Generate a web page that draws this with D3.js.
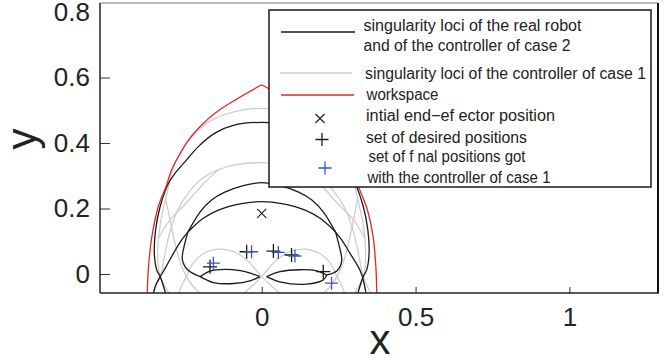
<!DOCTYPE html>
<html>
<head>
<meta charset="utf-8">
<script src="https://cdn.jsdelivr.net/npm/d3@7"></script>
<style>
  body { margin: 0; background: #fff; }
  svg { display: block; }
  .tick-label { font-family: "Liberation Sans", Arial, sans-serif; font-size: 26px; fill: #222; }
  .axis-title { font-family: "Liberation Sans", Arial, sans-serif; font-size: 42px; fill: #222; }
  .legend-text { font-family: "Liberation Sans", Arial, sans-serif; font-size: 16px; fill: #222; }
  .black-loci { fill: none; stroke: #1a1a1a; stroke-width: 1.3; }
  .gray-loci { fill: none; stroke: #cdcdcd; stroke-width: 1.3; }
  .workspace { fill: none; stroke: #e3262a; stroke-width: 1.3; }
</style>
</head>
<body>
<div id="chart"></div>
<script>
// axis ticks
const xTicks = [0, 0.5, 1];
const yTicks = [0, 0.2, 0.4, 0.6, 0.8];

// workspace boundary (red), left and right arcs meet at the peak
const workspaceLeft = [[-0.372, -0.06], [-0.368, 0.022], [-0.357, 0.114], [-0.336, 0.206], [-0.309, 0.272],
  [-0.293, 0.318], [-0.271, 0.358], [-0.238, 0.409], [-0.195, 0.455], [-0.152, 0.491], [-0.087, 0.531], [0, 0.578]];
const workspaceRight = [[0, 0.578], [0.087, 0.531], [0.152, 0.491], [0.195, 0.455], [0.238, 0.409], [0.271, 0.358],
  [0.293, 0.318], [0.314, 0.267], [0.342, 0.2], [0.362, 0.114], [0.371, 0.022], [0.374, -0.06]];

// singularity loci of the real robot (black)
const blackOuter = [[-0.312, -0.06], [-0.33, -0.008], [-0.341, 0.012], [-0.349, 0.063], [-0.345, 0.134], [-0.33, 0.206],
  [-0.303, 0.277], [-0.282, 0.307], [-0.249, 0.343], [-0.206, 0.389], [-0.152, 0.43], [-0.087, 0.455], [0, 0.463],
  [0.087, 0.455], [0.152, 0.43], [0.206, 0.389], [0.249, 0.343], [0.282, 0.307], [0.303, 0.277], [0.33, 0.206],
  [0.345, 0.134], [0.349, 0.063], [0.341, 0.012], [0.33, -0.008], [0.312, -0.06]];
const crescentTop = [[-0.24, 0.128], [-0.2, 0.19], [-0.163, 0.226], [-0.12, 0.25], [-0.06, 0.27], [0, 0.279],
  [0.06, 0.27], [0.12, 0.25], [0.163, 0.226], [0.2, 0.19], [0.24, 0.128]];
const crescentBottom = [[-0.24, 0.128], [-0.19, 0.17], [-0.141, 0.195], [-0.07, 0.214], [0, 0.221],
  [0.07, 0.214], [0.141, 0.195], [0.19, 0.17], [0.24, 0.128]];
const cuspLeftOuter = [[-0.24, 0.128], [-0.26, 0.104], [-0.287, 0.063], [-0.314, 0.017], [-0.33, -0.008], [-0.345, -0.035], [-0.352, -0.06]];
const cuspRightOuter = [[0.24, 0.128], [0.26, 0.104], [0.287, 0.063], [0.319, 0.012], [0.33, -0.018], [0.339, -0.06]];
const cuspLeftInner = [[-0.24, 0.128], [-0.252, 0.085], [-0.258, 0.045], [-0.24, 0.012], [-0.2, -0.008]];
const cuspRightInner = [[0.24, 0.128], [0.252, 0.085], [0.26, 0.04], [0.245, 0.01], [0.211, -0.003]];
const lensLeftTop = [[-0.2, -0.008], [-0.168, 0.009], [-0.12, 0.014], [-0.07, 0.01], [-0.035, 0.002], [-0.006, -0.008]];
const lensLeftBottom = [[-0.2, -0.008], [-0.157, -0.026], [-0.092, -0.029], [-0.035, -0.02], [-0.006, -0.008]];
const lensRightTop = [[0.016, -0.008], [0.059, 0.007], [0.124, 0.013], [0.175, 0.01], [0.211, -0.003]];
const lensRightBottom = [[0.016, -0.008], [0.059, -0.024], [0.146, -0.031], [0.2, -0.018], [0.211, -0.003]];

// singularity loci of the controller of case 1 (gray)
const grayOuter = [[-0.3, -0.06], [-0.33, -0.008], [-0.338, 0.06], [-0.33, 0.15], [-0.312, 0.23], [-0.298, 0.287],
  [-0.282, 0.338], [-0.249, 0.394], [-0.206, 0.44], [-0.152, 0.475], [-0.087, 0.496], [0, 0.506],
  [0.087, 0.496], [0.152, 0.475], [0.206, 0.44], [0.249, 0.394], [0.282, 0.338], [0.298, 0.287],
  [0.312, 0.23], [0.33, 0.15], [0.338, 0.06], [0.33, -0.008], [0.3, -0.06]];
const grayMiddle = [[-0.355, -0.06], [-0.33, -0.008], [-0.315, 0.06], [-0.295, 0.14], [-0.265, 0.21], [-0.222, 0.266],
  [-0.196, 0.29], [-0.141, 0.318], [-0.087, 0.333], [0, 0.34], [0.087, 0.333], [0.141, 0.318], [0.196, 0.29],
  [0.222, 0.266], [0.265, 0.21], [0.295, 0.14], [0.315, 0.06], [0.33, -0.008], [0.355, -0.06]];
const grayBowLeft = [[-0.27, -0.06], [-0.26, -0.035], [-0.245, -0.008], [-0.225, 0.03], [-0.19, 0.062], [-0.14, 0.076],
  [-0.09, 0.068], [-0.045, 0.04], [0, -0.008], [0.035, -0.04], [0.06, -0.06]];
const grayBowRight = [[0.27, -0.06], [0.26, -0.035], [0.245, -0.008], [0.225, 0.03], [0.19, 0.062], [0.14, 0.076],
  [0.09, 0.068], [0.045, 0.04], [0, -0.008], [-0.035, -0.04], [-0.06, -0.06]];
const grayCrossLeft = [[-0.2, -0.06], [-0.225, -0.035], [-0.245, -0.008], [-0.27, 0.05], [-0.298, 0.165], [-0.312, 0.23]];
const grayCrossRight = [[0.2, -0.06], [0.225, -0.035], [0.245, -0.008], [0.27, 0.05], [0.298, 0.165], [0.312, 0.23]];
const grayInnerLeft = [[-0.141, 0.318], [-0.19, 0.275], [-0.24, 0.222], [-0.298, 0.165], [-0.335, 0.11]];
const grayInnerRight = [[0.141, 0.318], [0.19, 0.275], [0.24, 0.222], [0.298, 0.165], [0.335, 0.11]];

// markers
const initialPos = [[0, 0.185]];
const desiredX = [-0.049, 0.038, 0.097, -0.168, 0.2];
const desiredY = [0.068, 0.07, 0.058, 0.022, 0.007];
const finalX = [-0.033, 0.054, 0.108, -0.157, 0.227];
const finalY = [0.068, 0.066, 0.055, 0.033, -0.028];

const legendLabels = [
  'singularity loci of the real robot',
  'and of the controller of case 2',
  'singularity loci of the controller of case 1',
  'workspace',
  'intial end\u2212ef ector position',
  'set of desired positions',
  'set of f nal positions got',
  'with the controller of case 1'
];

const W = 669, H = 360;
const plot = { left: 100, right: 658, top: 3, bottom: 293 };

const xScale = d3.scaleLinear().domain([-0.5256, 1.288]).range([plot.left, plot.right]);
const yScale = d3.scaleLinear().domain([-0.058, 0.8275]).range([plot.bottom, plot.top]);

const svg = d3.select('#chart').append('svg')
  .attr('width', W)
  .attr('height', H);

svg.append('defs').append('clipPath')
  .attr('id', 'plot-clip')
  .append('rect')
  .attr('x', plot.left)
  .attr('y', plot.top)
  .attr('width', plot.right - plot.left)
  .attr('height', plot.bottom - plot.top);

const line = d3.line()
  .x(d => xScale(d[0]))
  .y(d => yScale(d[1]))
  .curve(d3.curveCatmullRom.alpha(0.5));

const curves = svg.append('g').attr('clip-path', 'url(#plot-clip)');

const drawCurve = (pts, cls) => {
  curves.append('path')
    .attr('class', cls)
    .attr('d', line(pts));
};

// gray first, black on top, then workspace
[grayOuter, grayMiddle, grayBowLeft, grayBowRight, grayCrossLeft, grayCrossRight, grayInnerLeft, grayInnerRight]
  .forEach(c => drawCurve(c, 'gray-loci'));
[blackOuter, crescentTop, crescentBottom, cuspLeftOuter, cuspRightOuter, cuspLeftInner, cuspRightInner,
  lensLeftTop, lensLeftBottom, lensRightTop, lensRightBottom]
  .forEach(c => drawCurve(c, 'black-loci'));
[workspaceLeft, workspaceRight].forEach(c => drawCurve(c, 'workspace'));

const drawPlus = (g, x, y, r, color) => {
  g.append('path')
    .attr('d', `M${x - r},${y}H${x + r}M${x},${y - r}V${y + r}`)
    .attr('stroke', color)
    .attr('stroke-width', 1.3)
    .attr('fill', 'none');
};

const drawCross = (g, x, y, r, color) => {
  g.append('path')
    .attr('d', `M${x - r},${y - r}L${x + r},${y + r}M${x - r},${y + r}L${x + r},${y - r}`)
    .attr('stroke', color)
    .attr('stroke-width', 1.2)
    .attr('fill', 'none');
};

const markers = svg.append('g').attr('clip-path', 'url(#plot-clip)');
initialPos.forEach(p => drawCross(markers, xScale(p[0]), yScale(p[1]), 4.5, '#222'));
desiredX.forEach((x, i) => drawPlus(markers, xScale(x), yScale(desiredY[i]), 7, '#1a1a1a'));
finalX.forEach((x, i) => drawPlus(markers, xScale(x), yScale(finalY[i]), 6.5, '#3f55c4'));

// axes (ticks point inside)
const xAxis = svg.append('g')
  .attr('transform', `translate(0,${plot.bottom})`)
  .call(d3.axisBottom(xScale).tickValues(xTicks).tickSize(-6).tickFormat(d3.format('~g')));
xAxis.select('.domain').remove();
xAxis.selectAll('.tick line').attr('stroke', '#333');
xAxis.selectAll('.tick text')
  .attr('class', 'tick-label')
  .attr('y', 33)
  .attr('dy', 0);

const yAxis = svg.append('g')
  .attr('transform', `translate(${plot.left},0)`)
  .call(d3.axisLeft(yScale).tickValues(yTicks).tickSize(-10).tickFormat(d3.format('~g')));
yAxis.select('.domain').remove();
yAxis.selectAll('.tick line').attr('stroke', '#333')
  .attr('opacity', d => d === 0.8 ? 0 : 1);
yAxis.selectAll('.tick text')
  .attr('class', 'tick-label')
  .attr('x', -10);

// frame
svg.append('line').attr('x1', plot.left).attr('x2', plot.right).attr('y1', plot.top).attr('y2', plot.top)
  .attr('stroke', '#777').attr('stroke-width', 1);
svg.append('line').attr('x1', plot.right).attr('x2', plot.right).attr('y1', plot.top).attr('y2', plot.bottom)
  .attr('stroke', '#111').attr('stroke-width', 2);
svg.append('line').attr('x1', plot.left).attr('x2', plot.left).attr('y1', plot.top).attr('y2', plot.bottom)
  .attr('stroke', '#222').attr('stroke-width', 1.5);
svg.append('line').attr('x1', plot.left).attr('x2', plot.right + 1).attr('y1', plot.bottom).attr('y2', plot.bottom)
  .attr('stroke', '#222').attr('stroke-width', 1.5);

// axis titles
svg.append('text').attr('class', 'axis-title')
  .attr('x', 380).attr('y', 354)
  .attr('text-anchor', 'middle')
  .text('x');
svg.append('text').attr('class', 'axis-title')
  .attr('transform', 'translate(36,139) rotate(-90)')
  .attr('text-anchor', 'middle')
  .text('y');

// legend
const legend = svg.append('g');
legend.append('rect')
  .attr('x', 269).attr('y', 10)
  .attr('width', 382).attr('height', 177)
  .attr('fill', '#fff')
  .attr('stroke', '#1a1a1a')
  .attr('stroke-width', 1.5);

legend.append('line').attr('x1', 281).attr('x2', 355).attr('y1', 32).attr('y2', 32)
  .attr('class', 'black-loci');
legend.append('line').attr('x1', 280).attr('x2', 352).attr('y1', 73).attr('y2', 73)
  .attr('class', 'gray-loci');
legend.append('line').attr('x1', 281).attr('x2', 354).attr('y1', 95).attr('y2', 95)
  .attr('class', 'workspace').attr('stroke-width', 1.6);
drawCross(legend, 320, 118.5, 4.5, '#222');
drawPlus(legend, 322, 139.5, 6.5, '#1a1a1a');
drawPlus(legend, 325, 168, 6.5, '#3f55c4');

const legendPos = [
  [363.5, 31, 218], [363.5, 51, 207], [365, 79, 281], [366.5, 100, 72],
  [366, 121, 189], [366, 143, 161], [368.5, 162, 157], [367.5, 183, 183]
];
legendLabels.forEach((t, i) => {
  const [x, y, w] = legendPos[i];
  legend.append('text')
    .attr('class', 'legend-text')
    .attr('x', x).attr('y', y)
    .attr('textLength', w)
    .attr('lengthAdjust', 'spacingAndGlyphs')
    .text(t);
});
</script>
</body>
</html>
